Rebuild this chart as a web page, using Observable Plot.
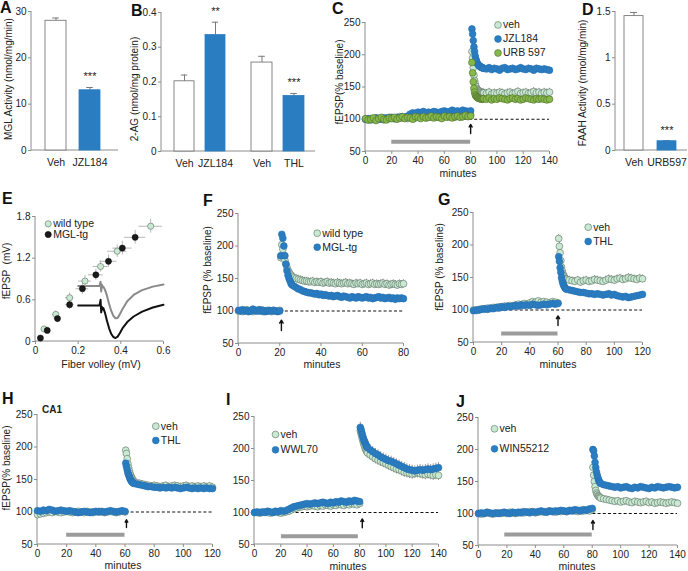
<!DOCTYPE html>
<html><head><meta charset="utf-8">
<script src="https://cdn.jsdelivr.net/npm/d3@7"></script>
<script src="https://cdn.jsdelivr.net/npm/@observablehq/plot@0.6"></script>
<style>
html,body{margin:0;padding:0;background:#fff;}
#fig{position:relative;width:688px;height:571px;overflow:hidden;background:#fff;font-family:"Liberation Sans",Arial,Helvetica,sans-serif;color:#222;}
.t{position:absolute;white-space:pre;line-height:1;}
</style></head><body><div id="fig"></div>
<script>
// ---------------- DATA ----------------
// A: MGL activity
const aCats = ["Veh", "JZL184"];
const aValues = [28.0, 13.0];
const aErrors = [0.6, 0.6];
const aStars = ["", "***"];
// B: 2-AG
const b1Cats = ["Veh", "JZL184"];
const b1Values = [0.202, 0.335];
const b1Errors = [0.018, 0.037];
const b1Stars = ["", "**"];
const b2Cats = ["Veh", "THL"];
const b2Values = [0.256, 0.160];
const b2Errors = [0.018, 0.007];
const b2Stars = ["", "***"];
// D: FAAH activity
const dCats = ["Veh", "URB597"];
const dValues = [1.45, 0.10];
const dErrors = [0.04, 0.006];
const dStars = ["", "***"];

// E: input-output
const eWtFV = [0.04, 0.095, 0.16, 0.232, 0.305, 0.383, 0.54];
const eWtEP = [0.18, 0.39, 0.63, 0.87, 1.08, 1.30, 1.66];
const eWtFVerr = [0.012, 0.015, 0.02, 0.03, 0.035, 0.045, 0.055];
const eWtEPerr = [0.03, 0.05, 0.07, 0.08, 0.08, 0.09, 0.1];
const eTgFV = [0.023, 0.055, 0.103, 0.16, 0.22, 0.283, 0.342, 0.407, 0.467];
const eTgEP = [0.05, 0.16, 0.33, 0.53, 0.76, 0.96, 1.155, 1.345, 1.50];
const eTgFVerr = [0.006, 0.01, 0.015, 0.02, 0.03, 0.035, 0.04, 0.045, 0.05];
const eTgEPerr = [0.02, 0.03, 0.05, 0.07, 0.08, 0.08, 0.09, 0.1, 0.1];
// E inset traces (sample traces, in panel units)
const traceX = [0.2, 0.3, 0.305, 0.308, 0.311, 0.314, 0.318, 0.325, 0.335, 0.345, 0.355, 0.365, 0.375, 0.385, 0.395, 0.41, 0.43, 0.46, 0.5, 0.55, 0.6];
const traceWt = [0.8, 0.8, 0.86, 0.72, 0.82, 0.78, 0.79, 0.75, 0.66, 0.54, 0.44, 0.37, 0.335, 0.34, 0.39, 0.48, 0.58, 0.67, 0.74, 0.79, 0.82];
const traceTg = [0.52, 0.52, 0.6, 0.42, 0.5, 0.46, 0.48, 0.42, 0.3, 0.19, 0.11, 0.065, 0.05, 0.07, 0.12, 0.2, 0.28, 0.36, 0.43, 0.49, 0.53];

// C: LTP, JZL184 / URB597 (stim at 80 min)
const tC = [...d3.range(0, 81, 2), ...d3.range(81, 90, 0.5), ...d3.range(90, 141, 2)];
const cVeh = [100,99,101,100,102,100,101,99,102,101,103,101,102,104,102,103,101,104,103,102,104,103,105,102,104,103,105,104,103,105,104,106,104,105,103,106,105,104,106,105,107,
  205,195,180,168,160,155,151,148,146,145,144,143,143,142,142,141,141,141,
  141,140,142,139,141,140,142,141,139,141,142,140,141,143,140,141,142,140,141,143,141,142,140,142,141,142];
const cJZL = [100,101,99,100,102,101,100,102,101,103,102,101,103,102,104,103,105,108,110,109,111,110,112,109,111,110,112,111,110,112,113,111,112,114,112,113,111,114,113,112,113,
  240,232,222,212,205,198,193,190,187,185,184,183,182,181,181,180,180,179,
  179,178,180,177,179,178,176,179,180,177,178,179,177,178,180,178,177,179,178,176,179,178,177,178,177,176];
const cURB = [101,99,100,102,98,101,103,100,99,102,101,103,100,102,104,101,103,102,100,104,103,101,104,102,103,105,102,104,103,101,105,103,104,102,104,105,103,104,106,104,105,
  188,172,158,148,142,138,136,135,134,133,133,132,132,132,131,132,131,132,
  132,131,133,130,132,131,133,132,131,130,132,133,131,132,130,131,133,132,131,130,132,131,132,131,130,131];
// SEM: [before stimulus, after stimulus]
const cVehSem = [3, 6], cJZLSem = [3, 5], cURBSem = [3, 5];

// F: wild type vs MGL-tg (stim at 20 min)
const tF = [...d3.range(0, 21, 1), ...d3.range(20.5, 26, 0.5), ...d3.range(26, 81, 1)];
const fWt = [100,101,99,100,102,100,101,99,100,101,100,102,99,100,101,100,99,101,100,100,101,
  182,202,195,185,178,172,167,163,160,157,155,
  153,151,150,149,148,147,146,146,145,145,146,144,145,144,145,143,144,145,143,144,143,142,144,143,142,143,144,142,143,142,141,143,142,143,141,142,143,141,142,143,141,142,141,142,143,141,142,140,141,142,141,140,142,141,142];
const fTg = [101,100,102,100,101,99,100,103,101,100,102,100,101,99,100,101,100,101,100,99,100,
  185,218,212,200,185,172,162,155,150,146,142,
  140,138,136,134,133,131,130,129,128,128,127,126,127,125,126,124,125,124,123,124,122,123,124,122,121,123,122,121,120,122,121,120,122,121,120,121,122,120,121,119,120,121,122,120,121,119,120,121,119,120,118,120,119,120,119];
const fWtSem = [2, 6], fTgSem = [2, 4];

// G: veh vs THL (stim at 60 min)
const tG = [...d3.range(0, 61, 2), ...d3.range(60.5, 66, 0.5), ...d3.range(66, 121, 2)];
const gVeh = [100,99,101,102,101,103,102,104,103,105,104,106,105,107,106,108,109,108,110,109,111,113,112,114,112,113,112,111,113,112,111,
  210,198,188,176,166,160,156,153,151,149,148,
  147,146,145,144,146,143,145,146,144,145,147,146,145,144,146,148,147,146,148,149,147,148,150,149,148,147,149,148];
const gTHL = [99,100,100,101,102,101,103,102,104,103,105,104,106,105,106,107,106,108,107,108,107,109,108,107,108,109,108,109,110,109,110,
  182,175,165,158,150,145,141,138,136,134,133,
  132,131,130,129,128,127,127,126,125,125,124,125,124,123,124,125,123,124,122,121,120,121,119,120,121,122,123,124];
const gVehSem = [2, 6], gTHLSem = [2, 4];

// H: CA1 veh vs THL (stim at 60 min)
const tH = [...d3.range(0, 61, 2), ...d3.range(60.5, 66, 0.5), ...d3.range(66, 121, 2)];
const hVeh = [96,97,98,99,100,99,101,100,99,100,101,100,99,100,101,100,99,101,100,99,100,101,100,99,100,101,100,99,100,101,100,
  195,190,182,174,168,163,159,156,153,151,149,
  147,145,144,143,142,141,140,141,140,139,140,141,139,140,141,140,139,140,141,139,140,139,140,139,140,139,140,138];
const hTHL = [102,101,103,102,104,103,101,102,103,102,101,102,101,100,99,100,101,100,99,100,101,100,101,100,101,102,101,100,101,102,101,
  175,170,165,160,157,154,151,149,147,146,145,
  144,143,142,141,140,139,139,138,138,137,138,137,138,137,138,137,136,137,138,137,136,137,136,137,136,137,136,136];
const hVehSem = [2, 5], hTHLSem = [2, 4];

// I: veh vs WWL70 (stim at 80 min)
const tI = [...d3.range(0, 81, 2), ...d3.range(80.5, 86, 0.5), ...d3.range(86, 141, 2)];
const iVeh = [100,100,99,100,101,100,99,100,101,100,99,100,101,102,104,106,107,108,109,110,109,110,111,110,109,111,110,112,111,110,112,111,113,112,111,113,112,114,113,112,114,
  228,224,220,216,212,208,205,202,199,197,195,
  193,190,187,184,182,180,178,176,174,172,170,168,167,165,163,162,161,160,161,162,161,160,159,160,159,158,159,158];
const iWWL = [100,101,100,101,100,102,101,100,102,101,103,102,103,105,107,109,110,111,112,113,114,113,114,115,114,115,116,115,114,116,115,117,116,118,117,116,118,117,119,118,117,
  233,230,226,222,218,215,212,210,207,205,203,
  201,198,195,192,190,187,185,183,181,180,178,176,174,172,170,168,167,166,165,166,167,166,167,168,167,168,169,170];
const iVehSem = [2, 8], iWWLSem = [2, 8];

// J: veh vs WIN55212 (stim at 80 min)
const tJ = [...d3.range(0, 81, 2), ...d3.range(80.5, 86, 0.5), ...d3.range(86, 141, 2)];
const jVeh = [100,99,100,101,100,99,100,101,100,101,100,102,101,100,101,102,101,102,103,102,101,102,103,102,103,104,103,102,104,103,104,103,104,105,104,103,105,104,105,104,106,
  172,160,150,142,136,132,130,128,127,126,125,
  124,123,122,121,120,119,120,118,119,120,118,117,119,118,117,118,119,117,118,116,117,118,117,116,117,118,117,116];
const jWIN = [100,101,100,102,101,100,101,100,101,102,101,100,102,101,102,101,103,102,101,103,102,103,104,103,102,104,103,104,103,105,104,103,105,104,106,105,104,106,105,107,108,
  200,198,190,180,172,165,160,156,152,150,148,
  147,145,144,143,142,141,142,140,141,142,140,139,141,140,142,141,140,139,141,140,142,141,140,141,142,141,140,141];
const jVehSem = [2, 5], jWINSem = [2, 4];

// ---------------- STYLE / HELPERS ----------------
const BLUE = "#2b7dc1", BLUE_S = "#2571b4";
const VEH_F = "#c8ead3", VEH_S = "#5e6f61";
const URB_F = "#86b84a", URB_S = "#4f6f2c";
const AX = "#8c8c8c", TXT = "#222", ERR = "#9a9a9a";
const FONT = '"Liberation Sans", Arial, Helvetica, sans-serif';
const ML = 40, MR = 6, MT = 10, MB = 26;
const fig = document.getElementById("fig");

function frameLines() {
  return (index, scales, values, dim) => {
    const ns = "http://www.w3.org/2000/svg";
    const g = document.createElementNS(ns, "g");
    const L = dim.marginLeft, R = dim.width - dim.marginRight, T = dim.marginTop, B = dim.height - dim.marginBottom;
    for (const [x1, y1, x2, y2] of [[L, T, L, B], [L, B, R, B]]) {
      const l = document.createElementNS(ns, "line");
      l.setAttribute("x1", x1); l.setAttribute("y1", y1);
      l.setAttribute("x2", x2); l.setAttribute("y2", y2);
      l.setAttribute("stroke", AX); l.setAttribute("stroke-width", 1);
      g.appendChild(l);
    }
    return g;
  };
}

function base(box, opts) {
  const [x0, x1, y0, y1] = box;
  const w = x1 - x0 + ML + MR, h = y1 - y0 + MT + MB;
  const svg = Plot.plot({
    width: w, height: h, marginLeft: ML, marginRight: MR, marginTop: MT, marginBottom: MB,
    style: {background: "transparent", overflow: "visible", fontFamily: FONT, fontSize: "10px", color: TXT},
    ...opts
  });
  const d = document.createElement("div");
  d.style.cssText = `position:absolute;left:${x0 - ML}px;top:${y0 - MT}px;width:${w}px;height:${h}px;`;
  d.appendChild(svg);
  fig.appendChild(d);
}

function legendMarks(box, items, x, y, gap, r = 3.4) {
  return items.flatMap((it, i) => [
    Plot.dot([it], {x: null, y: null, frameAnchor: "top-left", dx: x - box[0], dy: y - box[2] + i * gap,
      r, fill: it.fill, stroke: it.stroke, strokeWidth: 0.6}),
    Plot.text([it], {x: null, y: null, frameAnchor: "top-left", dx: x - box[0] + 5, dy: y - box[2] + i * gap,
      text: d => d.name, textAnchor: "start", lineAnchor: "middle", fontSize: 10.5, fill: TXT})
  ]);
}

function barLayer(box, yDomain, cats, vals, errs, stars, left, w, step, withAxis, yTicks) {
  const data = cats.map((c, i) => ({c, v: vals[i], e: errs[i], s: stars[i], ctrl: i === 0}));
  const off = box[0] - ML;
  const r0 = left, r1 = left + step * (cats.length - 1) + w;
  const cap = w / 2 - 3.5;
  const marks = [];
  if (withAxis) {
    marks.push(frameLines());
    marks.push(Plot.axisY({ticks: yTicks, tickFormat: d => String(d), tickSize: 3, tickPadding: 2, stroke: AX, fill: TXT, label: null}));
  }
  marks.push(
    Plot.ruleX(data, {x: "c", y1: "v", y2: d => d.v + d.e, stroke: "#7a7a7a"}),
    Plot.tickY(data, {x: "c", y: d => d.v + d.e, stroke: "#7a7a7a", insetLeft: cap, insetRight: cap}),
    Plot.barY(data, {x: "c", y: "v", fill: d => d.ctrl ? "#ffffff" : BLUE, stroke: d => d.ctrl ? "#6a6a6a" : BLUE, strokeWidth: 0.8}),
    Plot.text(data, {x: "c", y: d => d.v + d.e, text: "s", dy: -7, lineAnchor: "bottom", fontSize: 11, fill: TXT}),
    Plot.axisX({tickSize: 0, tickPadding: 8, fill: TXT, fontSize: 10.5, label: null})
  );
  base(box, {
    x: {domain: cats, range: [r0 - off, r1 - off], paddingInner: 1 - w / step, paddingOuter: 0, align: 0.5, label: null},
    y: {domain: yDomain, label: null, axis: withAxis ? undefined : null},
    color: {type: "identity"},
    marks
  });
}

function tsPanel(box, cfg) {
  const marks = [
    frameLines(),
    Plot.axisX({ticks: cfg.xTicks, tickSize: 3, tickPadding: 2, stroke: AX, fill: TXT, label: null}),
    Plot.axisY({ticks: [50, 100, 150, 200, 250], tickSize: 3, tickPadding: 2, stroke: AX, fill: TXT, label: null}),
    Plot.ruleY([100], {x1: 0, x2: cfg.xMax, stroke: "#111", strokeWidth: 1.1, strokeDasharray: "3,2.2"})
  ];
  if (cfg.drug) marks.push(Plot.ruleY([cfg.drug[2]], {x1: cfg.drug[0], x2: cfg.drug[1], stroke: "#9b9b9b", strokeWidth: 4}));
  marks.push(Plot.arrow([cfg.arrow], {x1: d => d[0], x2: d => d[0], y1: d => d[1], y2: d => d[2], stroke: "#111", strokeWidth: 1.4, headLength: 5}));
  const sets = cfg.series.map(s => ({s, data: s.values.map((v, i) => ({t: s.times[i], v, e: s.times[i] < cfg.stim ? s.sem[0] : s.sem[1]})).filter(d => d.t !== undefined)}));
  for (const {data} of sets) marks.push(Plot.ruleX(data, {x: "t", y1: d => d.v - d.e, y2: d => d.v + d.e, stroke: ERR, strokeWidth: 1}));
  for (const {s, data} of sets) marks.push(Plot.dot(data, {x: "t", y: "v", r: 3.4, fill: s.fill, stroke: s.stroke, strokeWidth: 0.6}));
  marks.push(...legendMarks(box, cfg.series.slice().sort((a, b) => a.order - b.order), cfg.legend[0], cfg.legend[1], cfg.legend[2]));
  base(box, {x: {domain: [0, cfg.xMax], label: null}, y: {domain: [50, 250], label: null}, marks});
}

function addText(text, x, y, style) {
  const d = document.createElement("div");
  d.className = "t";
  d.textContent = text;
  d.style.cssText += `left:${x}px;top:${y}px;` + style;
  fig.appendChild(d);
}

// ---------------- PANELS ----------------
// A
barLayer([31, 118, 11, 150], [0, 30], aCats, aValues, aErrors, aStars, 44.3, 21.4, 34.7, true, [0, 10, 20, 30]);
// B
const boxB = [161, 315, 12, 151];
barLayer(boxB, [0, 0.4], b1Cats, b1Values, b1Errors, b1Stars, 173.7, 20.7, 31.6, true, [0, 0.1, 0.2, 0.3, 0.4]);
barLayer(boxB, [0, 0.4], b2Cats, b2Values, b2Errors, b2Stars, 250.3, 21.3, 32.4, false);
// D
barLayer([615, 687, 11, 150], [0, 1.5], dCats, dValues, dErrors, dStars, 624, 19, 33.3, true, [0, 0.5, 1, 1.5]);

// C
tsPanel([365, 549, 22, 151], {
  xMax: 140, xTicks: d3.range(0, 141, 20), stim: 80, drug: [20, 80, 65], arrow: [80, 78, 92],
  series: [
    {name: "veh", times: tC, values: cVeh, sem: cVehSem, fill: VEH_F, stroke: VEH_S, order: 0},
    {name: "JZL184", times: tC, values: cJZL, sem: cJZLSem, fill: BLUE, stroke: BLUE_S, order: 1},
    {name: "URB 597", times: tC, values: cURB, sem: cURBSem, fill: URB_F, stroke: URB_S, order: 2}
  ],
  legend: [497.5, 24.5, 14]
});
// F
tsPanel([238, 403, 213, 343], {
  xMax: 80, xTicks: [0, 20, 40, 60, 80], stim: 20.2, drug: null, arrow: [20.8, 70, 86],
  series: [
    {name: "wild type", times: tF, values: fWt, sem: fWtSem, fill: VEH_F, stroke: VEH_S, order: 0},
    {name: "MGL-tg", times: tF, values: fTg, sem: fTgSem, fill: BLUE, stroke: BLUE_S, order: 1}
  ],
  legend: [316.7, 232.7, 14]
});
// G
tsPanel([473, 642, 212, 342], {
  xMax: 120, xTicks: d3.range(0, 121, 20), stim: 60.2, drug: [20, 60, 64], arrow: [60, 76, 91],
  series: [
    {name: "veh", times: tG, values: gVeh, sem: gVehSem, fill: VEH_F, stroke: VEH_S, order: 0},
    {name: "THL", times: tG, values: gTHL, sem: gTHLSem, fill: BLUE, stroke: BLUE_S, order: 1}
  ],
  legend: [587.7, 226.7, 14.3]
});
// H
tsPanel([37, 212, 414, 544], {
  xMax: 120, xTicks: d3.range(0, 121, 20), stim: 60.2, drug: [20, 60, 65], arrow: [61, 76, 88],
  series: [
    {name: "veh", times: tH, values: hVeh, sem: hVehSem, fill: VEH_F, stroke: VEH_S, order: 0},
    {name: "THL", times: tH, values: hTHL, sem: hTHLSem, fill: BLUE, stroke: BLUE_S, order: 1}
  ],
  legend: [155.3, 425.7, 14.3]
});
// I
tsPanel([254, 438, 416, 544], {
  xMax: 140, xTicks: d3.range(0, 141, 20), stim: 80.2, drug: [20.5, 79, 63], arrow: [82, 76, 90],
  series: [
    {name: "veh", times: tI, values: iVeh, sem: iVehSem, fill: VEH_F, stroke: VEH_S, order: 0},
    {name: "WWL70", times: tI, values: iWWL, sem: iWWLSem, fill: BLUE, stroke: BLUE_S, order: 1}
  ],
  legend: [275, 434, 15.3]
});
// J
tsPanel([478, 677, 417, 545], {
  xMax: 140, xTicks: d3.range(0, 141, 20), stim: 80.2, drug: [18.5, 80, 67], arrow: [80.5, 75, 89],
  series: [
    {name: "veh", times: tJ, values: jVeh, sem: jVehSem, fill: VEH_F, stroke: VEH_S, order: 0},
    {name: "WIN55212", times: tJ, values: jWIN, sem: jWINSem, fill: BLUE, stroke: BLUE_S, order: 1}
  ],
  legend: [494, 428.3, 20]
});

// E
(function () {
  const box = [35, 163, 216, 341];
  const wt = eWtFV.map((x, i) => ({x, y: eWtEP[i], ex: eWtFVerr[i], ey: eWtEPerr[i]}));
  const tg = eTgFV.map((x, i) => ({x, y: eTgEP[i], ex: eTgFVerr[i], ey: eTgEPerr[i]}));
  const trWt = traceX.map((x, i) => ({x, y: traceWt[i]}));
  const trTg = traceX.map((x, i) => ({x, y: traceTg[i]}));
  const errMarks = (data) => [
    Plot.ruleX(data, {x: "x", y1: d => d.y - d.ey, y2: d => d.y + d.ey, stroke: "#b8b8b8"}),
    Plot.ruleY(data, {y: "y", x1: d => d.x - d.ex, x2: d => d.x + d.ex, stroke: "#b8b8b8"})
  ];
  base(box, {
    x: {domain: [0, 0.6], label: null},
    y: {domain: [0, 1.8], label: null},
    marks: [
      frameLines(),
      Plot.axisX({ticks: [0, 0.2, 0.4, 0.6], tickFormat: d => String(d), tickSize: 3, tickPadding: 2, stroke: AX, fill: TXT, label: null}),
      Plot.axisY({ticks: [0, 0.6, 1.2, 1.8], tickFormat: d => String(d), tickSize: 3, tickPadding: 2, stroke: AX, fill: TXT, label: null}),
      Plot.line(trWt, {x: "x", y: "y", stroke: "#8a8a8a", strokeWidth: 2}),
      Plot.line(trTg, {x: "x", y: "y", stroke: "#111", strokeWidth: 2}),
      ...errMarks(wt), ...errMarks(tg),
      Plot.dot(wt, {x: "x", y: "y", r: 3.1, fill: VEH_F, stroke: VEH_S, strokeWidth: 0.6}),
      Plot.dot(tg, {x: "x", y: "y", r: 3.1, fill: "#1a1a1a", stroke: "#000", strokeWidth: 0.4}),
      ...legendMarks(box, [{name: "wild type", fill: VEH_F, stroke: VEH_S}, {name: "MGL-tg", fill: "#1a1a1a", stroke: "#000"}], 47.7, 223.3, 10.7, 3.1)
    ]
  });
})();

// ---------------- TEXT ----------------
const letters = [["A", 0, 0], ["B", 131, 3], ["C", 332, 1], ["D", 582, 2], ["E", 2, 191], ["F", 203, 193], ["G", 438, 192], ["H", 2, 391], ["I", 226, 392], ["J", 456, 394]];
for (const [t, x, y] of letters) addText(t, x, y, "font-size:16px;font-weight:bold;line-height:16px;color:#111;");

const yLabels = [
  ["MGL Activity (nmol/mg/min)", 9, 79], ["2-AG (nmol/mg protein)", 135, 89], ["fEPSP(% baseline)", 340, 82],
  ["FAAH Activity (nmol/mg/min)", 583, 83], ["fEPSP  (mV)", 7, 271], ["fEPSP (% baseline)", 208, 270],
  ["fEPSP (% baseline)", 440, 267], ["fEPSP(% baseline)", 7, 468]
];
for (const [t, x, y] of yLabels) addText(t, x, y, "font-size:10px;transform:translate(-50%,-50%) rotate(-90deg);");

const xLabels = [["minutes", 458, 173], ["Fiber volley (mV)", 101, 364], ["minutes", 322, 364], ["minutes", 558, 364],
  ["minutes", 123, 565], ["minutes", 348, 566], ["minutes", 577, 566]];
for (const [t, x, y] of xLabels) addText(t, x, y, "font-size:10.5px;transform:translate(-50%,-50%);");

addText("CA1", 52, 410, "font-size:10px;font-weight:bold;transform:translate(-50%,-50%);");
</script></body></html>
